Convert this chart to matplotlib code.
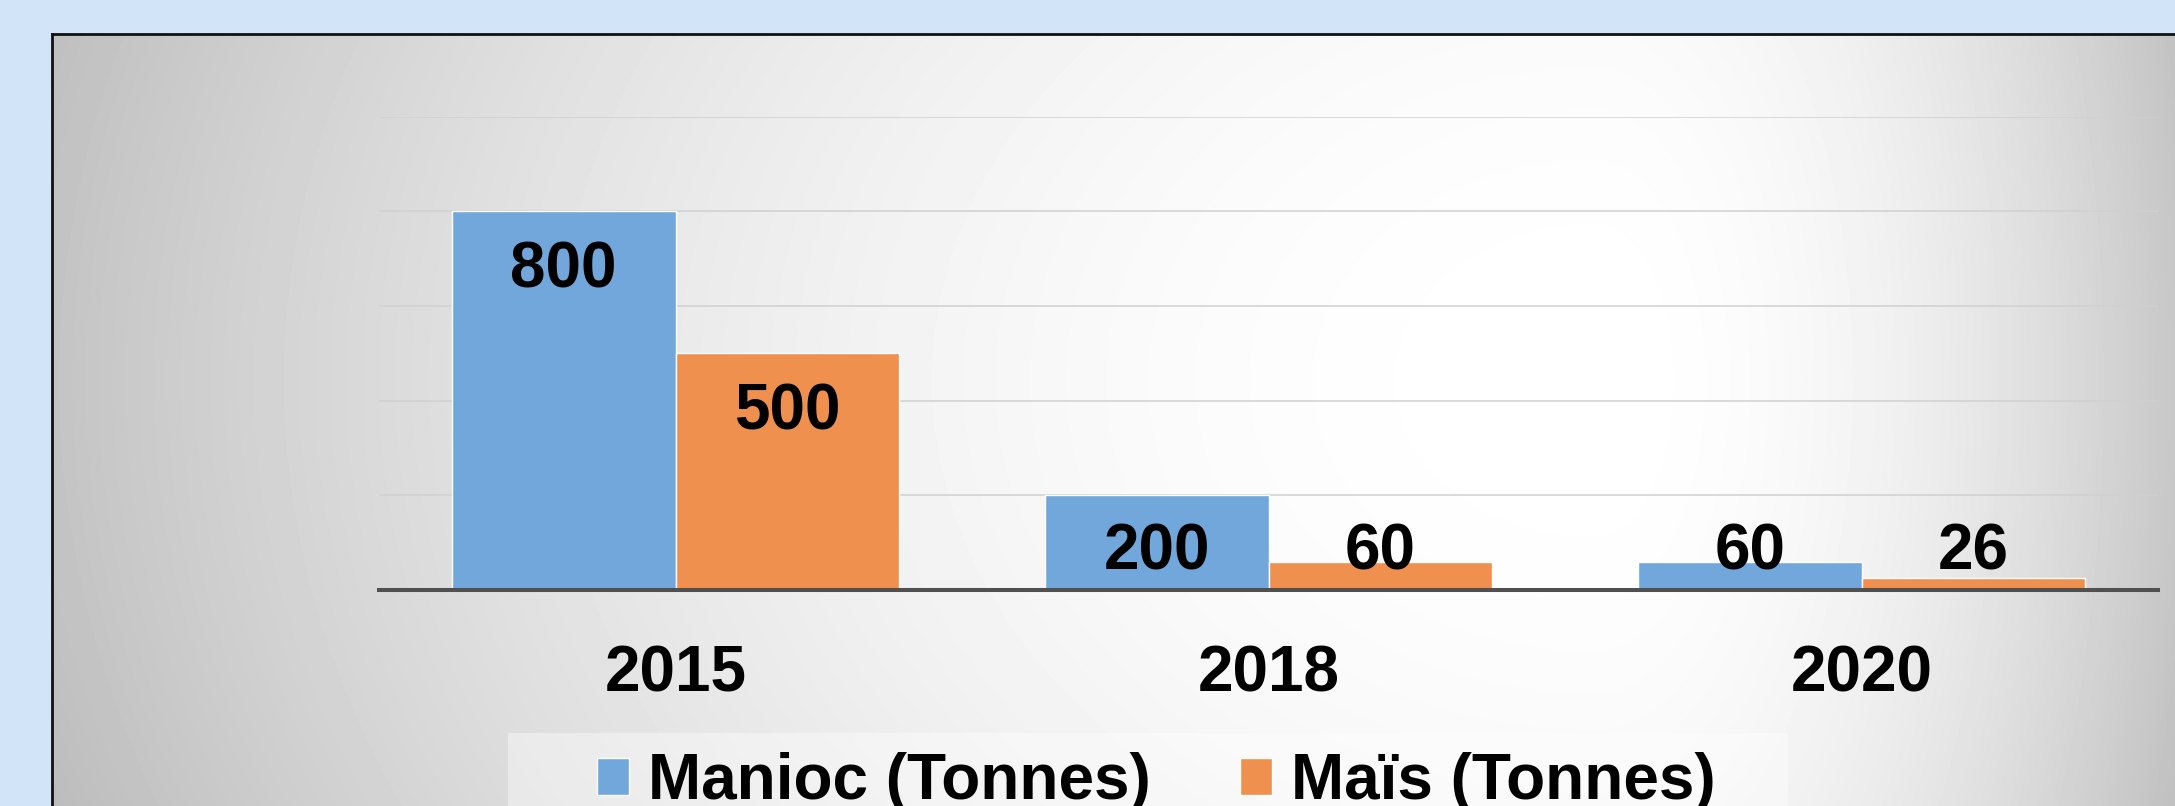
"""
Production Manioc / Maïs — histogramme groupé
"""

import numpy as np
import matplotlib
matplotlib.use('Agg')

import matplotlib.pyplot as plt
from matplotlib.patches import Rectangle

# données
annees = ["2015", "2018", "2020"]
manioc = [800, 200, 60]
mais = [500, 60, 26]
series = ["Manioc (Tonnes)", "Maïs (Tonnes)"]
couleurs = ["#71A7DA", "#F0904F"]

W, H = 2175, 806
plt.rcParams['font.family'] = ['Liberation Sans', 'DejaVu Sans']

fig = plt.figure(figsize=(W / 100, H / 100), dpi=100)
fig.patch.set_facecolor("#D2E5F8")

# panneau gris avec dégradé radial
px0, py0 = 52, 34
ax_bg = fig.add_axes([px0 / W, 0, 1 - px0 / W, (H - py0) / H])
xs = np.arange(px0, W)
ys = np.arange(py0, H)
X, Y = np.meshgrid(xs, ys)
cx, cy = 1595, 380
dx = X - cx
sx = np.where(dx < 0, 1600.0, 620.0)
t2 = (dx / sx) ** 2 + ((Y - cy) / 1250.0) ** 2
v = np.clip(1 - 0.25 * t2, 0.74, 1.0)
ax_bg.imshow(v, cmap="gray", vmin=0, vmax=1, aspect="auto",
             extent=(0, 1, 0, 1), interpolation="bilinear")
ax_bg.set_xlim(0, 1)
ax_bg.set_ylim(0, 1)
ax_bg.set_xticks([])
ax_bg.set_yticks([])
for s in ["right", "bottom"]:
    ax_bg.spines[s].set_visible(False)
for s in ["left", "top"]:
    ax_bg.spines[s].set_linewidth(2.0)
    ax_bg.spines[s].set_color("#111111")

# cadre de la légende (sous les axes principaux)
ax_bg.add_patch(Rectangle((508 / W, 0), (1788 - 508) / W, (H - 733) / H,
                          transform=fig.transFigure, facecolor="white",
                          alpha=0.4, edgecolor="none", zorder=2))

# axes principaux
left, right, top, base = 379, 2158, 116.7, 590
ax = fig.add_axes([left / W, 1 - base / H, (right - left) / W, (base - top) / H])
ax.patch.set_alpha(0)

x = np.arange(len(annees))
w = 0.377
b1 = ax.bar(x - w / 2, manioc, w, color=couleurs[0], edgecolor="white",
            linewidth=1, label=series[0], zorder=3)
b2 = ax.bar(x + w / 2, mais, w, color=couleurs[1], edgecolor="white",
            linewidth=1, label=series[1], zorder=3)

for barres in (b1, b2):
    for r in barres:
        val = r.get_height()
        y_txt = max(val - 161, 44)
        ax.text(r.get_x() + r.get_width() / 2, y_txt, f"{val:.0f}",
                ha="center", va="baseline", fontsize=46, fontweight="bold",
                color="black", zorder=4)

ax.set_xlim(-0.5, 2.5)
ax.set_ylim(0, 1000)
ax.set_yticks(np.arange(0, 1001, 200))
ax.set_yticklabels([])
ax.tick_params(axis="y", length=0)
ax.set_xticks(x)
ax.set_xticklabels(annees, fontsize=46, fontweight="bold")
ax.tick_params(axis="x", length=0, pad=39)
ax.grid(axis="y", color="#D0D0D0", linewidth=1.1, zorder=0)
ax.set_axisbelow(True)
for s in ["left", "right", "top"]:
    ax.spines[s].set_visible(False)
ax.spines["bottom"].set_linewidth(2.9)
ax.spines["bottom"].set_color("#505050")
ax.spines["bottom"].set_zorder(5)

# légende : le texte déborde en bas comme sur l'original
leg = ax.legend(handles=[b1, b2], loc="upper left",
                bbox_to_anchor=(597 / W, (H - 752) / H),
                bbox_transform=fig.transFigure, ncol=2, frameon=False,
                borderpad=0, borderaxespad=0, handlelength=0.5,
                handleheight=0.5, handletextpad=0.3, columnspacing=1.39,
                prop={"size": 46, "weight": "bold"})

fig.savefig("out.png", dpi=100, facecolor=fig.get_facecolor())
plt.close(fig)
